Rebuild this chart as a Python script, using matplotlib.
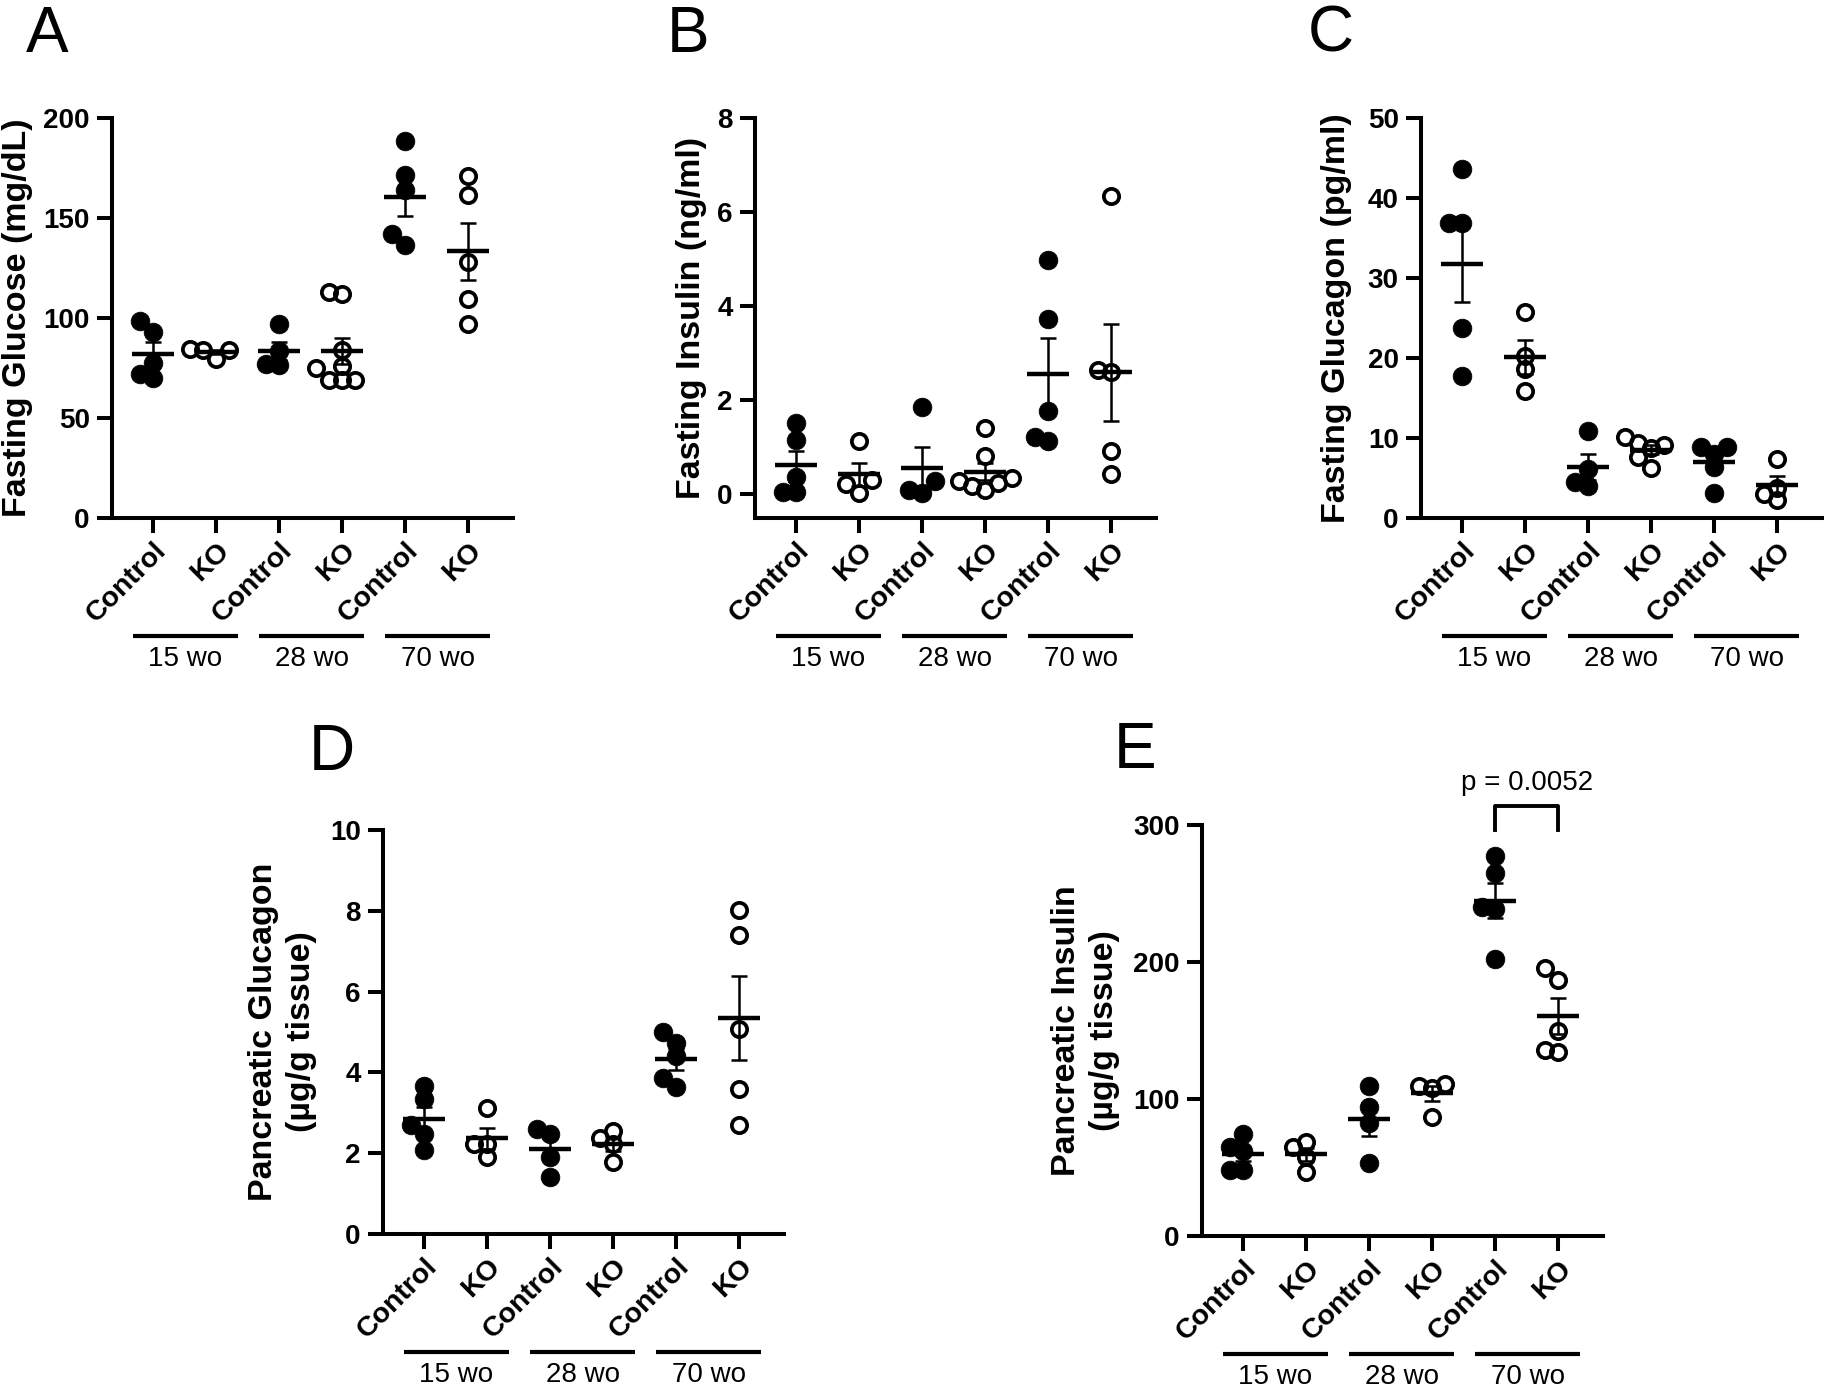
import matplotlib.pyplot as plt
import numpy as np
from matplotlib import transforms

plt.rcParams["font.family"] = ["Liberation Sans", "DejaVu Sans"]

# groups along the x axis
groups = ["Control", "KO", "Control", "KO", "Control", "KO"]
ages = ["15 wo", "28 wo", "70 wo"]
filled = [True, False, True, False, True, False]

# values (one list per group)
fasting_glucose = [
    [98.5, 93.1, 77.3, 72.1, 69.8],
    [79.5, 84.7, 84.2, 83.8],
    [96.8, 83.6, 76.7, 77.1],
    [113, 112, 84, 76, 75, 69, 69, 69],
    [188.5, 171.3, 164.2, 141.9, 136.3],
    [170.8, 161.5, 127.9, 109.3, 97.2],
]
fasting_insulin = [
    [1.52, 1.15, 0.37, 0.05, 0.05],
    [1.14, 0.30, 0.22, 0.04],
    [1.86, 0.29, 0.09, 0.04],
    [1.41, 0.82, 0.35, 0.29, 0.25, 0.17, 0.09],
    [4.98, 3.73, 1.78, 1.22, 1.14],
    [6.35, 2.65, 2.61, 0.92, 0.43],
]
fasting_glucagon = [
    [43.6, 36.9, 36.9, 23.7, 17.8],
    [25.8, 20.3, 18.6, 15.9],
    [10.9, 6.1, 4.5, 4.0],
    [10.1, 9.4, 9.1, 8.8, 7.6, 6.2],
    [8.9, 8.9, 8.0, 6.4, 3.1],
    [7.4, 3.8, 3.0, 2.2],
]
pancreatic_glucagon = [
    [3.66, 3.33, 2.70, 2.47, 2.07],
    [3.12, 2.23, 2.23, 1.91],
    [2.59, 2.47, 1.91, 1.41],
    [2.56, 2.37, 2.23, 1.77],
    [5.00, 4.72, 4.40, 3.86, 3.63],
    [8.02, 7.40, 5.07, 3.58, 2.70],
]
pancreatic_insulin = [
    [74.5, 65.3, 62.3, 48.5, 48.5],
    [68.4, 65.3, 57.7, 46.9],
    [109.8, 94.5, 82.8, 53.1],
    [111.3, 109.8, 108.3, 86.8],
    [277.6, 264.7, 240.2, 238.7, 202.5],
    [195.7, 187.1, 149.7, 135.9, 134.4],
]
p_label = "p = 0.0052"

W, H = 1825, 1389
fig = plt.figure(figsize=(W / 100, H / 100), dpi=100)


def add_axes(left, top, right, bottom):
    return fig.add_axes([left / W, 1 - bottom / H, (right - left) / W, (bottom - top) / H])


def swarm(ax, x0, vals, step=0.21, min_px=12.5):
    # greedy spreading of overlapping points (pixel space), at most 2 steps out
    vals = np.asarray(vals, dtype=float)
    xs = np.zeros(len(vals))
    placed = []
    cands = [0, -1, 1, -2, 2]
    for i in np.argsort(vals, kind="stable"):
        best, best_d = None, -1
        for c in cands:
            x = x0 + c * step
            p = ax.transData.transform((x, vals[i]))
            d = min([np.hypot(*(p - q)) for q in placed], default=1e9)
            if d >= min_px:
                best = (x, p)
                break
            if d > best_d:
                best, best_d = (x, p), d
        xs[i] = best[0]
        placed.append(best[1])
    return xs


def panel(ax, data, ylim, yticks, ylabel, label_dist):
    ax.set_xlim(-0.65, 5.71)
    ax.set_ylim(*ylim)
    for s in ["top", "right"]:
        ax.spines[s].set_visible(False)
    for s in ["left", "bottom"]:
        ax.spines[s].set_linewidth(2.9)

    for i, vals in enumerate(data):
        xs = swarm(ax, i, vals)
        if filled[i]:
            ax.plot(xs, vals, "o", ms=13.5, mfc="k", mec="k", mew=0.5, ls="none", zorder=3)
        else:
            ax.plot(xs, vals, "o", ms=11.0, mfc="none", mec="k", mew=2.7, ls="none", zorder=3)
        m = np.mean(vals)
        sem = np.std(vals, ddof=1) / np.sqrt(len(vals))
        ax.hlines(m, i - 0.33, i + 0.33, color="k", lw=3.2, zorder=4)
        ax.vlines(i, m - sem, m + sem, color="k", lw=1.8, zorder=4)
        ax.hlines([m - sem, m + sem], i - 0.13, i + 0.13, color="k", lw=1.8, zorder=4)

    ax.set_xticks(range(len(groups)))
    ax.set_xticklabels(groups, rotation=45, ha="right", va="top",
                       rotation_mode="anchor", fontsize=20.5, fontweight="bold")
    ax.set_yticks(yticks)
    ax.set_yticklabels([f"{t:g}" for t in yticks], fontsize=20, fontweight="bold")
    ax.tick_params(axis="both", length=11, width=2.9, direction="out")
    ax.tick_params(axis="y", pad=5)
    ax.tick_params(axis="x", pad=3)

    ax.set_ylabel(ylabel, fontsize=24.5, fontweight="bold", linespacing=1.3)
    ax.yaxis.set_label_coords(-label_dist / 401, 0.5)

    # age group lines under the tick labels
    trans = transforms.blended_transform_factory(ax.transData, ax.transAxes)
    off_line = transforms.ScaledTranslation(0, -1.18, fig.dpi_scale_trans)
    off_text = transforms.ScaledTranslation(0, -1.41, fig.dpi_scale_trans)
    for g, age in enumerate(ages):
        c = 2 * g + 0.515
        ax.plot([c - 0.835, c + 0.835], [0, 0], transform=trans + off_line,
                color="k", lw=3.0, clip_on=False, solid_capstyle="butt")
        ax.text(c, 0, age, transform=trans + off_text, ha="center", va="center", fontsize=20)


axA = add_axes(112, 118, 513, 518)
panel(axA, fasting_glucose, (0, 200), [0, 50, 100, 150, 200], "Fasting Glucose (mg/dL)", 79)

axB = add_axes(755, 118, 1156, 518)
panel(axB, fasting_insulin, (-0.5, 8), [0, 2, 4, 6, 8], "Fasting Insulin (ng/ml)", 48)

axC = add_axes(1421, 118, 1822, 518)
panel(axC, fasting_glucagon, (0, 50), [0, 10, 20, 30, 40, 50], "Fasting Glucagon (pg/ml)", 69)

axD = add_axes(383, 830, 784, 1234)
panel(axD, pancreatic_glucagon, (0, 10), [0, 2, 4, 6, 8, 10],
      "Pancreatic Glucagon\n(µg/g tissue)", 66)

axE = add_axes(1202, 825, 1603, 1236)
panel(axE, pancreatic_insulin, (0, 300), [0, 100, 200, 300],
      "Pancreatic Insulin\n(µg/g tissue)", 82)

# significance bracket between Control and KO at 70 wo
axE.plot([4, 4, 5, 5], [296, 314, 314, 296], color="k", lw=2.8, clip_on=False)
axE.text(4.5, 331, p_label, ha="center", va="center", fontsize=20)

# panel letters
for letter, x, y in [("A", 47, 52), ("B", 688, 52), ("C", 1331, 52),
                     ("D", 332, 770), ("E", 1135, 768)]:
    fig.text(x / W, 1 - y / H, letter, fontsize=46, ha="center", va="baseline")

fig.savefig("out.png", dpi=100)
